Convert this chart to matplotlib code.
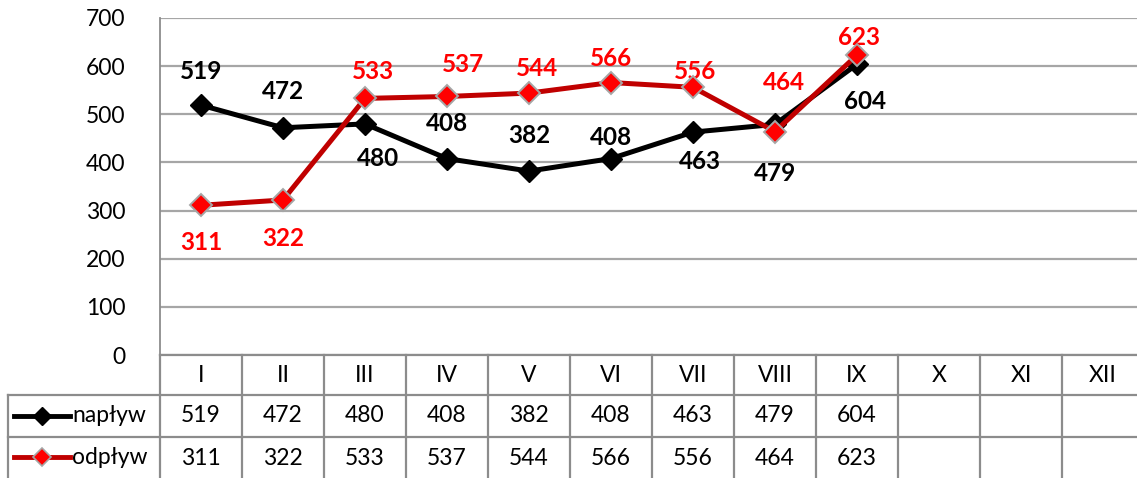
import matplotlib
matplotlib.use("Agg")
import matplotlib.pyplot as plt
from matplotlib.lines import Line2D
from matplotlib.transforms import blended_transform_factory

plt.rcParams['font.family'] = ['Lato', 'DejaVu Sans']

months = ["I", "II", "III", "IV", "V", "VI", "VII", "VIII", "IX", "X", "XI", "XII"]
naplyw = [519, 472, 480, 408, 382, 408, 463, 479, 604]
odplyw = [311, 322, 533, 537, 544, 566, 556, 464, 623]
series_names = ["napływ", "odpływ"]
yticks = [0, 100, 200, 300, 400, 500, 600, 700]

# data-label offsets in pixels (dx, dy up)
nap_off = [(0, 34), (0, 36), (13, -35), (0, 35), (0, 36), (0, 21), (7, -29), (0, -49), (8, -37)]
odp_off = [(0, -37), (0, -39), (8, 27), (16, 32), (8, 25), (0, 24), (2, 16), (9, 49), (2, 18)]

W, H = 1137, 478
fig = plt.figure(figsize=(W / 100, H / 100), dpi=100)
ax = fig.add_axes([160 / W, 1 - 355 / H, 984 / W, 337 / H])

FS = 16.5
FSB = 17.5

ax.set_xlim(-0.5, 11.5)
ax.set_ylim(0, 700)
ax.set_yticks(yticks)
ax.set_yticklabels([str(v) for v in yticks], fontsize=FS)
ax.tick_params(axis='y', length=0, pad=25)
ax.set_xticks([])
ax.grid(axis='y', color='#A6A6A6', lw=1.6)
ax.set_axisbelow(True)
for s in ['top', 'right', 'bottom']:
    ax.spines[s].set_visible(False)
ax.spines['left'].set_color('#8C8C8C')
ax.spines['left'].set_linewidth(1.3)

black = '#000000'
red_line = '#C00000'
red_fill = '#FF0000'

x1 = list(range(len(naplyw)))
x2 = list(range(len(odplyw)))
ax.plot(x1, naplyw, color=black, lw=3.6, marker='D', ms=11.5, mfc=black, mec=black, zorder=3)
ax.plot(x2, odplyw, color=red_line, lw=3.6, marker='D', ms=11.5, mfc=red_fill, mec='#A6A6A6', mew=1.4, zorder=4)

for x, v, (dx, dy) in zip(x1, naplyw, nap_off):
    ax.annotate(str(v), (x, v), xytext=(dx, dy), textcoords='offset pixels',
                ha='center', va='center', fontsize=FSB, fontweight='bold', color=black)
for x, v, (dx, dy) in zip(x2, odplyw, odp_off):
    ax.annotate(str(v), (x, v), xytext=(dx, dy), textcoords='offset pixels',
                ha='center', va='center', fontsize=FSB, fontweight='bold', color=red_fill)

# data table
tr = blended_transform_factory(ax.transData, ax.transAxes)
grid_c = '#8C8C8C'
rh = 40 / 337
rows_y = [0, -rh, -2 * rh - 2 / 337, -3 * rh - 5 / 337]
ax.plot([-0.5, 11.5], [0, 0], transform=tr, color=grid_c, lw=1.6, clip_on=False)
for yy in rows_y[1:3]:
    fy = 1 - (355 - yy * 337) / H
    fig.add_artist(Line2D([8 / W, 1.0], [fy, fy], color=grid_c, lw=1.6))
for i in range(13):
    ax.plot([i - 0.5, i - 0.5], [0, rows_y[3]], transform=tr, color=grid_c, lw=1.6, clip_on=False)
fig.add_artist(Line2D([8 / W, 8 / W], [1 - 395 / H, 0], color=grid_c, lw=1.6))

for i, m in enumerate(months):
    ax.text(i, -rh / 2, m, transform=tr, ha='center', va='center', fontsize=FS)
row_vals = [naplyw, odplyw]
for r, vals in enumerate(row_vals):
    yc = (rows_y[r + 1] + rows_y[r + 2]) / 2
    for i, v in enumerate(vals):
        ax.text(i, yc, str(v), transform=tr, ha='center', va='center', fontsize=FS)

key_y = [1 - 416 / H, 1 - 457 / H]
styles = [dict(color=black, mfc=black, mec=black, mew=1),
          dict(color=red_line, mfc=red_fill, mec='#A6A6A6', mew=1.2)]
for name, ky, st in zip(series_names, key_y, styles):
    fig.add_artist(Line2D([14 / W, 70 / W], [ky, ky], lw=3.5, color=st['color']))
    fig.add_artist(Line2D([42 / W], [ky], marker='D', ms=9.5, mfc=st['mfc'], mec=st['mec'], mew=st['mew'], lw=0))
    fig.text(72 / W, ky, name, ha='left', va='center', fontsize=FS)

fig.savefig("out.png", dpi=100)
